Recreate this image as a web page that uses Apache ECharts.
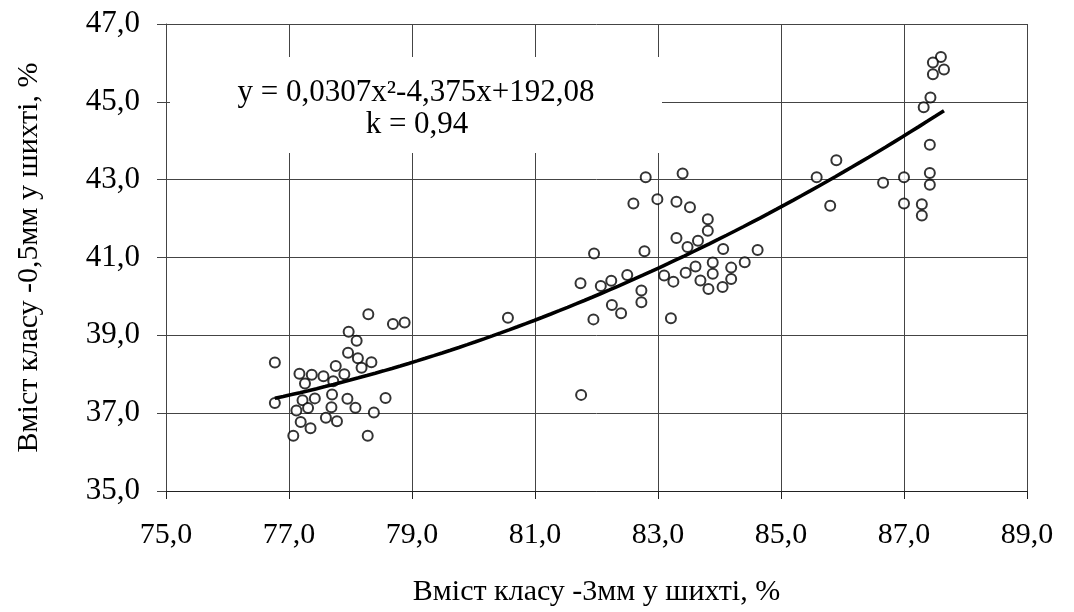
<!DOCTYPE html>
<html>
<head>
<meta charset="utf-8">
<script src="https://cdn.jsdelivr.net/npm/echarts@6/dist/echarts.min.js"></script>
<style>
  html, body { margin: 0; padding: 0; background: #fff; }
  #chart { width: 1074px; height: 612px; }
</style>
</head>
<body>
<div id="chart"></div>
<script>
// Measured samples: share of -3 mm class (x) vs share of -0,5 mm class (y), %
const xValues = [
  78.29, 78.69, 78.88, 77.97, 78.10, 76.77, 77.96, 78.12, 78.34, 78.18,
  77.76, 77.90, 77.17, 77.37, 77.56, 77.26, 77.72, 76.77, 77.22, 77.42,
  77.70, 77.95, 78.57, 77.12, 77.31, 77.69, 78.08, 78.38, 77.60, 77.78,
  77.19, 77.35, 77.07, 78.28,
  80.56, 81.75, 81.74, 81.96, 82.07, 82.24, 82.25, 81.95,
  82.80, 83.40, 82.60, 82.99, 83.30, 83.52, 83.81, 83.81, 83.30, 83.48,
  83.65, 84.06, 84.62, 82.78, 82.50, 83.10, 83.25, 83.45, 83.61, 83.89,
  83.89, 83.69, 83.82, 84.05, 84.19, 84.19, 84.41, 82.73, 82.73, 82.40,
  83.21,
  87.60, 87.47, 87.65, 87.47, 87.43, 87.32, 87.42, 87.42, 87.42, 85.90,
  85.58, 85.80, 86.66, 87.00, 87.00, 87.29, 87.29
];
const yValues = [
  39.54, 39.29, 39.33, 39.09, 38.86, 38.30, 38.55, 38.41, 38.31, 38.17,
  38.21, 38.00, 38.01, 37.99, 37.95, 37.76, 37.82, 37.26, 37.33, 37.38,
  37.48, 37.37, 37.39, 37.07, 37.13, 37.15, 37.14, 37.02, 36.88, 36.79,
  36.77, 36.61, 36.42, 36.42,
  39.45, 37.47, 40.34, 41.10, 40.27, 40.40, 39.78, 39.41,
  43.06, 43.16, 42.39, 42.50, 42.43, 42.29, 41.98, 41.69, 41.50, 41.27,
  41.43, 41.22, 41.19, 41.16, 40.55, 40.54, 40.38, 40.61, 40.77, 40.87,
  40.58, 40.41, 40.19, 40.24, 40.74, 40.45, 40.88, 40.15, 39.85, 39.57,
  39.44,
  46.15, 46.01, 45.83, 45.71, 45.11, 44.86, 43.90, 43.17, 42.87, 43.50,
  43.06, 42.33, 42.92, 43.06, 42.39, 42.37, 42.08
];

// Polynomial trend y = a·x² + b·x + c and its fit coefficient
const trendCoef = [0.03074, -4.375, 192.08];
const fitK = 0.94;

// Axis ranges and steps
const xRange = [75, 89];
const yRange = [35, 47];
const tickStep = 2;

// Axis titles
const xTitle = 'Вміст класу -3мм у шихті, %';
const yTitle = 'Вміст класу -0,5мм у шихті, %';

const FONT = '"Liberation Serif", "Times New Roman", serif';
const comma = s => s.replace('.', ',');

const [ca, cb, cc] = trendCoef;
const equationText = 'y = ' + comma(ca.toFixed(4)) + 'x²' + comma(cb.toFixed(3)) + 'x+' + comma(cc.toFixed(2));
const fitText = 'k = ' + comma(fitK.toFixed(2));

// Trend curve sampled across the span of the measurements
const xMin = Math.min(...xValues), xMax = Math.max(...xValues);
const trendData = [];
for (let i = 0; i <= 80; i++) {
  const x = xMin + (xMax - xMin) * i / 80;
  trendData.push([x, ca * x * x + cb * x + cc]);
}

const points = xValues.map((x, i) => [x, yValues[i]]);
const fmt = v => comma(v.toFixed(1));

const chart = echarts.init(document.getElementById('chart'), null, { renderer: 'canvas' });
chart.setOption({
  animation: false,
  backgroundColor: '#fff',
  grid: { left: 166, right: 47, top: 24, bottom: 121 },
  xAxis: {
    type: 'value',
    min: xRange[0], max: xRange[1], interval: tickStep,
    name: xTitle,
    nameLocation: 'middle',
    nameGap: 86,
    nameTextStyle: { fontFamily: FONT, fontSize: 30, color: '#000' },
    axisLine: { show: true, lineStyle: { color: '#222', width: 1 } },
    axisTick: { show: true, inside: false, length: 8, lineStyle: { color: '#222' } },
    axisLabel: { formatter: fmt, margin: 29, fontFamily: FONT, fontSize: 30, color: '#000' },
    splitLine: { show: true, lineStyle: { color: '#444', width: 1 } }
  },
  yAxis: {
    type: 'value',
    min: yRange[0], max: yRange[1], interval: tickStep,
    name: yTitle,
    nameLocation: 'middle',
    nameGap: 122,
    nameTextStyle: { fontFamily: FONT, fontSize: 30, color: '#000' },
    axisLine: { show: true, lineStyle: { color: '#444', width: 1 } },
    axisTick: { show: true, inside: false, length: 9, lineStyle: { color: '#444' } },
    axisLabel: { formatter: fmt, margin: 26, fontFamily: FONT, fontSize: 31, color: '#000' },
    splitLine: { show: true, lineStyle: { color: '#444', width: 1 } }
  },
  graphic: [
    {
      type: 'rect', z: 10,
      shape: { x: 170, y: 57, width: 492, height: 96 },
      style: { fill: '#fff' }
    },
    {
      type: 'text', z: 11, x: 416, y: 93,
      style: { text: equationText, font: '31px ' + FONT, fill: '#000', align: 'center', verticalAlign: 'middle' }
    },
    {
      type: 'text', z: 11, x: 417, y: 125,
      style: { text: fitText, font: '31px ' + FONT, fill: '#000', align: 'center', verticalAlign: 'middle' }
    }
  ],
  series: [
    {
      type: 'scatter',
      data: points,
      symbol: 'circle',
      symbolSize: 10,
      itemStyle: { color: '#fff', borderColor: '#000', borderWidth: 2 },
      z: 3
    },
    {
      type: 'line',
      data: trendData,
      showSymbol: false,
      smooth: false,
      lineStyle: { color: '#000', width: 3.6 },
      z: 4
    }
  ]
});
</script>
</body>
</html>
